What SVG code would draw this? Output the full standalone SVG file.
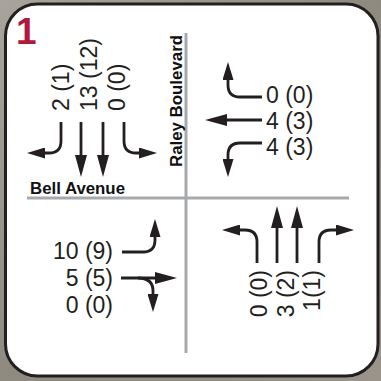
<svg xmlns="http://www.w3.org/2000/svg" width="381" height="381" viewBox="0 0 381 381">
<defs>
<linearGradient id="bg" x1="0" y1="0" x2="1" y2="1">
<stop offset="0" stop-color="#a8a49b"/>
<stop offset="0.5" stop-color="#8e8a80"/>
<stop offset="1" stop-color="#9a948a"/>
</linearGradient>
<marker id="ah" markerUnits="userSpaceOnUse" viewBox="0 0 22 12" refX="0" refY="6" markerWidth="22" markerHeight="12" orient="auto">
<path d="M0,0 L22,6 L0,12 Z" fill="#231f20"/>
</marker>
<marker id="at" markerUnits="userSpaceOnUse" viewBox="0 0 18 11" refX="0" refY="5.5" markerWidth="18" markerHeight="11" orient="auto">
<path d="M0,0 L18,5.5 L0,11 Z" fill="#231f20"/>
</marker>
</defs>
<style>
.num{font-family:"Liberation Sans",Arial,sans-serif;font-size:23px;fill:#231f20}
.road{font-family:"Liberation Sans",Arial,sans-serif;font-size:16.5px;font-weight:bold;fill:#111}
.s{fill:none;stroke:#231f20;stroke-width:2.8}
.t{fill:none;stroke:#231f20;stroke-width:2.8;marker-end:url(#at)}
.h{fill:none;stroke:#231f20;stroke-width:2.8;marker-end:url(#ah)}
.grid{stroke:#a7a9ac;stroke-width:3;fill:none}
</style>
<rect x="0" y="0" width="381" height="381" fill="url(#bg)"/>
<rect id="card" x="5.5" y="4" width="372.5" height="372" rx="32" fill="#ffffff" stroke="#231f20" stroke-width="3"/>
<g id="grid">
<line class="grid" x1="186" y1="33" x2="186" y2="353"/>
<line class="grid" x1="27" y1="198" x2="349" y2="198"/>
</g>
<text id="badge" x="16" y="44" font-family="Liberation Sans,Arial,sans-serif" font-size="37" font-weight="bold" fill="#b0183d">1</text>
<g id="street-labels">
<text class="road" transform="translate(182,167) rotate(-90)" textLength="132" lengthAdjust="spacingAndGlyphs">Raley Boulevard</text>
<text class="road" x="30" y="194" textLength="95" lengthAdjust="spacingAndGlyphs">Bell Avenue</text>
</g>
<g id="southbound">
<text class="num" transform="translate(69,111) rotate(-90)">2 (1)</text>
<text class="num" transform="translate(97,111) rotate(-90)">13 (12)</text>
<text class="num" transform="translate(125,111) rotate(-90)">0 (0)</text>
</g>
<g id="westbound">
<text class="num" x="266" y="103">0 (0)</text>
<text class="num" x="266" y="129">4 (3)</text>
<text class="num" x="266" y="155">4 (3)</text>
</g>
<g id="eastbound">
<text class="num" x="113" y="259" text-anchor="end">10 (9)</text>
<text class="num" x="113" y="286" text-anchor="end">5 (5)</text>
<text class="num" x="113" y="313" text-anchor="end">0 (0)</text>
</g>
<g id="northbound">
<text class="num" transform="translate(267,270) rotate(-90)" text-anchor="end">0 (0)</text>
<text class="num" transform="translate(294,270) rotate(-90)" text-anchor="end">3 (2)</text>
<text class="num" transform="translate(320,270) rotate(-90)" text-anchor="end">1(1)</text>
</g>
<g id="connectors">
<path class="t" d="M61,122 V141 Q61,153 49,153 H45"/>
<path class="h" d="M81,122 V155"/>
<path class="h" d="M103,122 V155"/>
<path class="t" d="M124,122 V141 Q124,153 136,153 H139"/>
<path class="t" d="M262,97 H240 Q228,97 228,85 V80"/>
<path class="h" d="M262,120 H227"/>
<path class="t" d="M262,143 H240 Q228,143 228,155 V159"/>
<path class="t" d="M122,252 H143 Q155,252 155,240 V237"/>
<path class="h" d="M121,278 H155"/>
<path class="t" d="M138,278 Q153,278 153,291 V294"/>
<path class="t" d="M257,263 V242 Q257,230 245,230 H240"/>
<path class="h" d="M277,263 V228"/>
<path class="h" d="M297,263 V228"/>
<path class="t" d="M319,263 V242 Q319,230 331,230 H336"/>
</g>
</svg>
